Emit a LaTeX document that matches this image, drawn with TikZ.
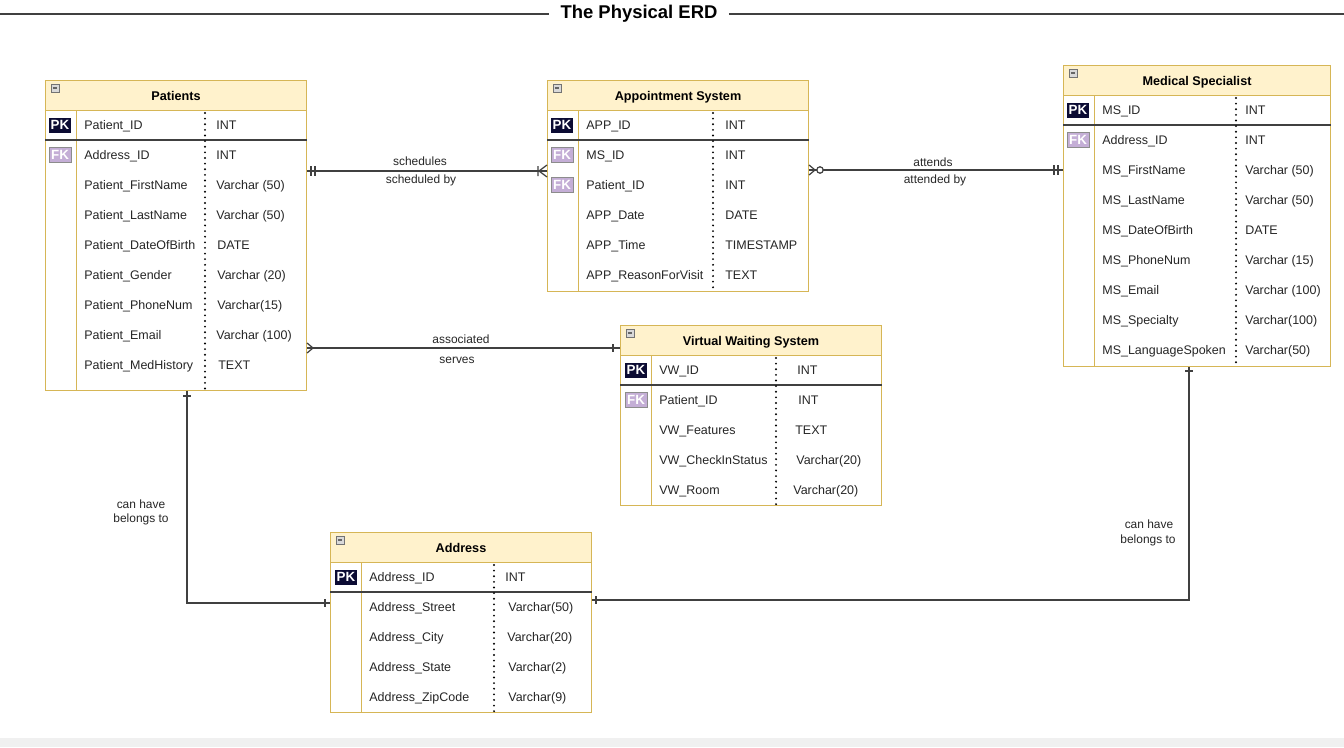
\documentclass[tikz,border=0pt]{standalone}
\usepackage{fontspec}
\setmainfont{Liberation Sans}
\definecolor{erdline}{HTML}{D6B656}
\definecolor{erdhead}{HTML}{FFF2CC}
\definecolor{pkblue}{HTML}{0B0B33}
\definecolor{fkpurple}{HTML}{C4AED6}
\tikzset{
  tbl/.style={draw=erdline, fill=white, anchor=north west, inner sep=0pt, line width=0.6pt},
  hdr/.style={draw=erdline, fill=erdhead, anchor=north west, inner sep=0pt, line width=0.6pt,
    minimum height=0.6cm, text height=5.1pt, text depth=0pt, font=\bfseries\fontsize{7.2}{8}\selectfont},
  fld/.style={anchor=west, inner sep=0pt, text height=5.1pt, text depth=0pt, text=black!85,
    font=\fontsize{7.1}{8}\selectfont},
  pk/.style={fill=pkblue, text=white, inner sep=0pt, minimum width=0.44cm, minimum height=0.3cm,
    font=\bfseries\fontsize{7.6}{8}\selectfont},
  fk/.style={pk, fill=fkpurple, draw=black!45, line width=0.4pt},
  minus/.style={draw=black!55, fill=black!15, inner sep=0pt, minimum size=0.16cm, line width=0.4pt,
    path picture={\draw[black!60, line width=0.6pt] ([xshift=1pt]path picture bounding box.west)
      -- ([xshift=-1pt]path picture bounding box.east);}},
  colsep/.style={draw=erdline, line width=0.5pt},
  pksep/.style={draw=black!75, line width=0.7pt},
  dots/.style={draw=black, line width=1.2pt, line cap=round, dash pattern=on 0pt off 3.2pt},
  rel/.style={draw=black!75, line width=0.7pt},
  lbl/.style={inner sep=0pt, text height=5pt, text depth=0pt, text=black!85, font=\fontsize{6.8}{8}\selectfont},
}
\begin{document}
\begin{tikzpicture}[x=0.02cm, y=-0.02cm]
  \useasboundingbox (0,0) rectangle (1344,747);
  \fill[white] (0,0) rectangle (1344,747);
  \fill[black!6] (0,738) rectangle (1344,747);

  % title
  \node[inner xsep=0.22cm, font=\bfseries\fontsize{10.5}{12}\selectfont] (ttl) at (639,14) {The Physical ERD};
  \draw[black!75, line width=0.8pt] (0,14) -- (ttl.west);
  \draw[black!75, line width=0.8pt] (ttl.east) -- (1344,14);

  % Patients
  \node[tbl, minimum width=5.22cm, minimum height=6.2cm] (pat) at (45,80) {};
  \node[hdr, minimum width=5.22cm] (pathead) at (45,80) {Patients};
  \node[minus] (patmin) at (55,88) {};
  \draw[colsep] (76,110) -- (pat.south -| 76,0);
  \draw[pksep] (pat.west |- 0,140) -- (pat.east |- 0,140);
  \draw[dots] (205,113) -- (205,390);
  \node[pk] (patpk) at (60,125) {PK};
  \node[fk] (patfk) at (60,155) {FK};
  \node[fld] (pid) at (84,125) {Patient\_ID};
  \node[fld] (pidt) at (216,125) {INT};
  \node[fld] (paid) at (84,155) {Address\_ID};
  \node[fld] (paidt) at (216,155) {INT};
  \node[fld] (pfn) at (84,185) {Patient\_FirstName};
  \node[fld] (pfnt) at (216,185) {Varchar (50)};
  \node[fld] (pln) at (84,215) {Patient\_LastName};
  \node[fld] (plnt) at (216,215) {Varchar (50)};
  \node[fld] (pdob) at (84,245) {Patient\_DateOfBirth};
  \node[fld] (pdobt) at (217,245) {DATE};
  \node[fld] (pgen) at (84,275) {Patient\_Gender};
  \node[fld] (pgent) at (217,275) {Varchar (20)};
  \node[fld] (pph) at (84,305) {Patient\_PhoneNum};
  \node[fld] (ppht) at (217,305) {Varchar(15)};
  \node[fld] (pem) at (84,335) {Patient\_Email};
  \node[fld] (pemt) at (216,335) {Varchar (100)};
  \node[fld] (pmh) at (84,365) {Patient\_MedHistory};
  \node[fld] (pmht) at (218,365) {TEXT};

  % Appointment System
  \node[tbl, minimum width=5.22cm, minimum height=4.22cm] (app) at (547,80) {};
  \node[hdr, minimum width=5.22cm] (apphead) at (547,80) {Appointment System};
  \node[minus] (appmin) at (557,88) {};
  \draw[colsep] (578,110) -- (app.south -| 578,0);
  \draw[pksep] (app.west |- 0,140) -- (app.east |- 0,140);
  \draw[dots] (713,113) -- (713,291);
  \node[pk] (apppk) at (562,125) {PK};
  \node[fk] (appfk1) at (562,155) {FK};
  \node[fk] (appfk2) at (562,185) {FK};
  \node[fld] (aid) at (586,125) {APP\_ID};
  \node[fld] (aidt) at (725,125) {INT};
  \node[fld] (amsid) at (586,155) {MS\_ID};
  \node[fld] (amsidt) at (725,155) {INT};
  \node[fld] (apid) at (586,185) {Patient\_ID};
  \node[fld] (apidt) at (725,185) {INT};
  \node[fld] (adate) at (586,215) {APP\_Date};
  \node[fld] (adatet) at (725,215) {DATE};
  \node[fld] (atime) at (586,245) {APP\_Time};
  \node[fld] (atimet) at (725,245) {TIMESTAMP};
  \node[fld] (arsn) at (586,275) {APP\_ReasonForVisit};
  \node[fld] (arsnt) at (725,275) {TEXT};

  % Medical Specialist
  \node[tbl, minimum width=5.34cm, minimum height=6.02cm] (ms) at (1063,65) {};
  \node[hdr, minimum width=5.34cm] (mshead) at (1063,65) {Medical Specialist};
  \node[minus] (msmin) at (1073,73) {};
  \draw[colsep] (1094,95) -- (ms.south -| 1094,0);
  \draw[pksep] (ms.west |- 0,125) -- (ms.east |- 0,125);
  \draw[dots] (1236,98) -- (1236,366);
  \node[pk] (mspk) at (1078,110) {PK};
  \node[fk] (msfk) at (1078,140) {FK};
  \node[fld] (mid) at (1102,110) {MS\_ID};
  \node[fld] (midt) at (1245,110) {INT};
  \node[fld] (maid) at (1102,140) {Address\_ID};
  \node[fld] (maidt) at (1245,140) {INT};
  \node[fld] (mfn) at (1102,170) {MS\_FirstName};
  \node[fld] (mfnt) at (1245,170) {Varchar (50)};
  \node[fld] (mln) at (1102,200) {MS\_LastName};
  \node[fld] (mlnt) at (1245,200) {Varchar (50)};
  \node[fld] (mdob) at (1102,230) {MS\_DateOfBirth};
  \node[fld] (mdobt) at (1245,230) {DATE};
  \node[fld] (mph) at (1102,260) {MS\_PhoneNum};
  \node[fld] (mpht) at (1245,260) {Varchar (15)};
  \node[fld] (mem) at (1102,290) {MS\_Email};
  \node[fld] (memt) at (1245,290) {Varchar (100)};
  \node[fld] (msp) at (1102,320) {MS\_Specialty};
  \node[fld] (mspt) at (1245,320) {Varchar(100)};
  \node[fld] (mlang) at (1102,350) {MS\_LanguageSpoken};
  \node[fld] (mlangt) at (1245,350) {Varchar(50)};

  % Virtual Waiting System
  \node[tbl, minimum width=5.22cm, minimum height=3.6cm] (vw) at (620,325) {};
  \node[hdr, minimum width=5.22cm] (vwhead) at (620,325) {Virtual Waiting System};
  \node[minus] (vwmin) at (630,333) {};
  \draw[colsep] (651,355) -- (vw.south -| 651,0);
  \draw[pksep] (vw.west |- 0,385) -- (vw.east |- 0,385);
  \draw[dots] (776,358) -- (776,505);
  \node[pk] (vwpk) at (636,370) {PK};
  \node[fk] (vwfk) at (636,400) {FK};
  \node[fld] (vid) at (659,370) {VW\_ID};
  \node[fld] (vidt) at (797,370) {INT};
  \node[fld] (vpid) at (659,400) {Patient\_ID};
  \node[fld] (vpidt) at (798,400) {INT};
  \node[fld] (vfeat) at (659,430) {VW\_Features};
  \node[fld] (vfeatt) at (795,430) {TEXT};
  \node[fld] (vcheck) at (659,460) {VW\_CheckInStatus};
  \node[fld] (vcheckt) at (796,460) {Varchar(20)};
  \node[fld] (vroom) at (659,490) {VW\_Room};
  \node[fld] (vroomt) at (793,490) {Varchar(20)};

  % Address
  \node[tbl, minimum width=5.22cm, minimum height=3.6cm] (addr) at (330,532) {};
  \node[hdr, minimum width=5.22cm] (addrhead) at (330,532) {Address};
  \node[minus] (addrmin) at (340,540) {};
  \draw[colsep] (361,562) -- (addr.south -| 361,0);
  \draw[pksep] (addr.west |- 0,592) -- (addr.east |- 0,592);
  \draw[dots] (494,565) -- (494,712);
  \node[pk] (addrpk) at (346,577) {PK};
  \node[fld] (adid) at (369,577) {Address\_ID};
  \node[fld] (adidt) at (505,577) {INT};
  \node[fld] (adst) at (369,607) {Address\_Street};
  \node[fld] (adstt) at (508,607) {Varchar(50)};
  \node[fld] (adcity) at (369,637) {Address\_City};
  \node[fld] (adcityt) at (507,637) {Varchar(20)};
  \node[fld] (adstate) at (369,667) {Address\_State};
  \node[fld] (adstatet) at (508,667) {Varchar(2)};
  \node[fld] (adzip) at (369,697) {Address\_ZipCode};
  \node[fld] (adzipt) at (508,697) {Varchar(9)};

  % Patients -- Appointment System
  \draw[rel] (pat.east |- 0,171) -- (app.west |- 0,171);
  \draw[rel] (311,166) -- (311,176) (315,166) -- (315,176);
  \draw[rel] (538,166) -- (538,176) (app.west |- 0,165) -- (539,171) -- (app.west |- 0,177);
  \node[lbl] (sch) at (420,161) {schedules};
  \node[lbl] (schby) at (421,179) {scheduled by};

  % Appointment System -- Medical Specialist
  \draw[rel] (app.east |- 0,170) -- (ms.west |- 0,170);
  \draw[rel] (app.east |- 0,165) -- (815,170) -- (app.east |- 0,175);
  \draw[rel, fill=white] (820,170) circle (3.2);
  \draw[rel] (1054,165) -- (1054,175) (1058,165) -- (1058,175);
  \node[lbl] (att) at (933,162) {attends};
  \node[lbl] (attby) at (935,179) {attended by};

  % Patients -- Virtual Waiting System
  \draw[rel] (pat.east |- 0,348) -- (vw.west |- 0,348);
  \draw[rel] (pat.east |- 0,343) -- (313,348) -- (pat.east |- 0,353);
  \draw[rel] (613,344) -- (613,352);
  \node[lbl] (assoc) at (461,339) {associated};
  \node[lbl] (serv) at (457,359) {serves};

  % Patients -- Address
  \draw[rel] (pat.south -| 187,0) |- (addr.west |- 0,603);
  \draw[rel] (183,396) -- (191,396);
  \draw[rel] (325,599) -- (325,607);
  \node[lbl] (pcan) at (141,504) {can have};
  \node[lbl] (pbel) at (141,518) {belongs to};

  % Medical Specialist -- Address
  \draw[rel] (ms.south -| 1189,0) |- (addr.east |- 0,600);
  \draw[rel] (1185,371) -- (1193,371);
  \draw[rel] (596,596) -- (596,604);
  \node[lbl] (mcan) at (1149,524) {can have};
  \node[lbl] (mbel) at (1148,539) {belongs to};
\end{tikzpicture}
\end{document}
